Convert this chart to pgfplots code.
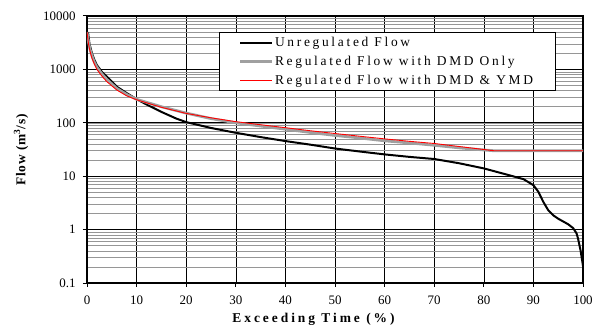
\documentclass[border=0pt]{standalone}
\usepackage{fontspec}
\setmainfont{Liberation Serif}
\usepackage{pgfplots}
\pgfplotsset{compat=1.18}
\definecolor{regray}{RGB}{160,160,160}
\definecolor{minorgray}{RGB}{150,150,150}
\pgfplotsset{
  legend image code/.code={\draw[#1] (0cm,0cm) -- (1.1cm,0cm);},
}
\begin{document}
\begin{tikzpicture}
\begin{axis}[
  scale only axis,
  width=496bp, height=267bp,
  ymode=log,
  xmin=0, xmax=100, ymin=0.1, ymax=10000,
  xtick={0,10,...,100},
  ytick={0.1,1,10,100,1000,10000},
  yticklabels={0.1,1,10,100,1000,10000},
  /pgf/number format/assume math mode=true,
  tick label style={font=\fontsize{13}{15}\selectfont},
  xticklabel style={yshift=-5bp},
  yticklabel style={xshift=-4bp},
  xmajorgrids, ymajorgrids, yminorgrids,
  major grid style={black, line width=0.6pt},
  minor grid style={minorgray, line width=0.5pt},
  tick align=outside,
  major tick length=4bp,
  minor tick length=0pt,
  tick style={black, line width=1pt},
  axis line style={black, line width=1.6pt},
  xtick pos=bottom, ytick pos=left,
  xlabel={\textbf{\addfontfeatures{LetterSpace=22}Exceeding Time (\%)}},
  ylabel={\textbf{\addfontfeatures{LetterSpace=6}Flow (m\textsuperscript{3}/s)}},
  label style={font=\fontsize{13.5}{15}\selectfont},
  xlabel style={yshift=-2bp, xshift=-20bp},
  ylabel style={yshift=8bp},
  legend style={at={(rel axis cs:0.944,0.94)}, anchor=north east,
    draw=black, fill=white,
    font=\fontsize{13.5}{19}\selectfont\addfontfeatures{LetterSpace=20},
    row sep=4pt, inner xsep=20bp, inner ysep=3pt},
  legend cell align=left,
]
\addplot[black, line width=2pt] coordinates {
(0.2,5000)(0.5,3000)(1,2000)(1.5,1500)(2,1200)(3,900)(4,730)(5,590)(6,475)(8,360)
(10,277)(12,220)(15,160)(18,120)(20,103)(25,80)(30,65)(35,54)(40,45.5)(45,39)
(50,33)(55,29)(60,25.6)(65,23)(70,21)(75,17.5)(80,14)(85,10.5)(88,8.8)(90,6.8)
(91,5.1)(92,3.3)(93,2.3)(94,1.85)(95,1.6)(97,1.26)(98,1.07)(98.7,0.85)(99,0.68)
(99.5,0.41)(100,0.21)};
\addlegendentry{Unregulated Flow}
\addplot[regray, line width=2.8pt] coordinates {
(0,5000)(0.3,3300)(0.6,2400)(1,1800)(1.5,1350)(2,1100)(3,820)(4,650)(6,440)(8,340)
(10,275)(15,200)(20,152)(25,120)(30,100)(35,87)(40,76)(45,66)(50,58)(55,52)
(60,46)(65,42)(70,38)(75,34)(80,31)(82,30)(100,30)};
\addlegendentry{Regulated Flow with DMD Only}
\addplot[red, line width=0.9pt] coordinates {
(0,5000)(0.3,3000)(0.6,2200)(1,1620)(1.5,1250)(2,1000)(3,750)(4,590)(6,412)(8,320)
(10,270)(15,195)(20,150)(25,124)(30,105)(35,92)(40,81)(45,71)(50,63)(55,56)
(60,50)(65,45)(70,41)(75,36)(80,31.6)(82,30)(100,30)};
\addlegendentry{Regulated Flow with DMD \& YMD}
\coordinate (sw) at (rel axis cs:0,0);
\coordinate (ne) at (rel axis cs:1,1);
\end{axis}
\pgfresetboundingbox
\path[use as bounding box] ([shift={(-87bp,-46bp)}]sw) rectangle ([shift={(15bp,16bp)}]ne);
\end{tikzpicture}
\end{document}
